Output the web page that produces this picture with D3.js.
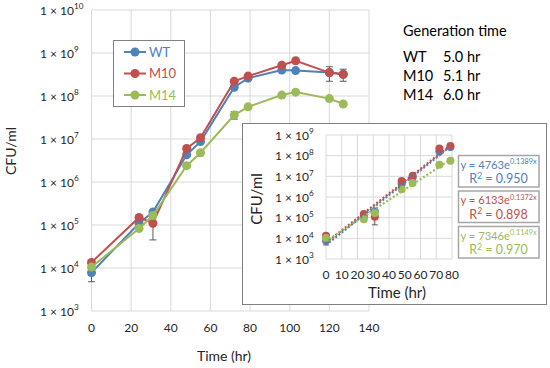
<!DOCTYPE html>
<html>
<head>
<meta charset="utf-8">
<script src="https://cdn.jsdelivr.net/npm/d3@7"></script>
<style>
  html, body { margin: 0; padding: 0; background: #fff; }
  svg { display: block; font-family: Lato, "Open Sans", sans-serif; }
</style>
</head>
<body>
<div id="chart"></div>
<script>
// ---- data ----
const times = [0, 24, 31, 48, 55, 72, 79, 96, 103, 120, 127];
const seriesNames = ["WT", "M10", "M14"];
const seriesColors = ["#4F81BD", "#C0504D", "#9BBB59"];
const wtValues  = [7.8e3, 1.1e5, 2.0e5, 4.3e6, 8.7e6, 1.6e8, 2.6e8, 4.0e8, 3.9e8, 3.5e8, 3.2e8];
const m10Values = [1.35e4, 1.5e5, 1.1e5, 6.0e6, 1.07e7, 2.2e8, 2.9e8, 5.2e8, 6.6e8, 3.5e8, 3.2e8];
const m14Values = [1.05e4, 8.3e4, 1.66e5, 2.4e6, 4.8e6, 3.6e7, 5.6e7, 1.05e8, 1.23e8, 8.7e7, 6.5e7];
const wtErrors  = [3e3, 0, 0, 0, 0, 0, 0, 0, 0, 0, 0];
const m10Errors = [0, 0, 6.5e4, 0, 0, 0, 0, 0, 0, 1.3e8, 1.0e8];
const m14Errors = [0, 0, 0, 0, 0, 7e6, 0, 0, 0, 0, 0];

const generationTimes = ["5.0 hr", "5.1 hr", "6.0 hr"];
const fitA = [4763, 6133, 7346];
const fitB = [0.1389, 0.1372, 0.1149];
const fitR2 = ["0.950", "0.898", "0.970"];

const mainXTicks = [0, 20, 40, 60, 80, 100, 120, 140];
const mainYExps = [3, 4, 5, 6, 7, 8, 9, 10];
const insetXTicks = [0, 10, 20, 30, 40, 50, 60, 70, 80];
const insetYExps = [3, 4, 5, 6, 7, 8, 9];
const insetMaxTime = 80;

const values = [wtValues, m10Values, m14Values];
const errors = [wtErrors, m10Errors, m14Errors];

const W = 550, H = 368;
const gridColor = "#D9D9D9";
const textColor = "#262626";

const svg = d3.select("#chart").append("svg")
  .attr("width", W).attr("height", H);

// ---- main chart ----
const x = d3.scaleLinear().domain([0, 140]).range([91.5, 369]);
const y = d3.scaleLog().domain([1e3, 1e10]).range([311, 10]);

const grid = svg.append("g");
grid.selectAll(".hg").data(mainYExps).enter().append("line")
  .attr("x1", x(0)).attr("x2", x(140))
  .attr("y1", d => y(Math.pow(10, d))).attr("y2", d => y(Math.pow(10, d)))
  .attr("stroke", gridColor).attr("stroke-width", 1);
grid.selectAll(".vg").data(mainXTicks).enter().append("line")
  .attr("x1", d => x(d)).attr("x2", d => x(d))
  .attr("y1", y(1e3)).attr("y2", y(1e10))
  .attr("stroke", gridColor).attr("stroke-width", 1);

function powLabel(sel, exp, size) {
  sel.append("tspan").text("1 \u00D7 10");
  sel.append("tspan").attr("dy", -size * 0.42).style("font-size", (size * 0.68) + "px").text(exp);
}

mainYExps.forEach(e => {
  const t = svg.append("text")
    .attr("x", 40).attr("y", y(Math.pow(10, e)) + 4.5)
    .style("font-size", "12px").attr("fill", textColor);
  powLabel(t, e, 12);
});

svg.selectAll(".xt").data(mainXTicks).enter().append("text")
  .attr("x", d => x(d)).attr("y", 332)
  .attr("text-anchor", "middle")
  .style("font-size", "12px").attr("fill", textColor)
  .text(d => d);

svg.append("text")
  .attr("x", 224).attr("y", 361)
  .attr("text-anchor", "middle")
  .style("font-size", "14px").attr("fill", textColor)
  .text("Time (hr)");

svg.append("text")
  .attr("transform", "translate(16,151) rotate(-90)")
  .attr("text-anchor", "middle")
  .style("font-size", "14px").attr("fill", textColor)
  .text("CFU/ml");

const line = d3.line().x(d => x(d.t)).y(d => y(d.v));

seriesNames.forEach((name, si) => {
  const pts = times.map((t, i) => ({ t, v: values[si][i], e: errors[si][i] }));
  const g = svg.append("g");
  // error bars
  pts.filter(d => d.e > 0).forEach(d => {
    const lo = y(Math.max(d.v - d.e, 1e3)), hi = y(d.v + d.e);
    g.append("line").attr("x1", x(d.t)).attr("x2", x(d.t))
      .attr("y1", lo).attr("y2", hi).attr("stroke", "#595959").attr("stroke-width", 1);
    [lo, hi].forEach(yy => g.append("line")
      .attr("x1", x(d.t) - 3.5).attr("x2", x(d.t) + 3.5)
      .attr("y1", yy).attr("y2", yy).attr("stroke", "#595959").attr("stroke-width", 1));
  });
  g.append("path").datum(pts)
    .attr("d", line)
    .attr("fill", "none")
    .attr("stroke", seriesColors[si]).attr("stroke-width", 2);
  g.selectAll("circle").data(pts).enter().append("circle")
    .attr("cx", d => x(d.t)).attr("cy", d => y(d.v)).attr("r", 4.5)
    .attr("fill", seriesColors[si]);
});

// legend
const legend = svg.append("g");
legend.append("rect")
  .attr("x", 113.5).attr("y", 40.5).attr("width", 71).attr("height", 66)
  .attr("fill", "#fff").attr("stroke", "#808080").attr("stroke-width", 1);
seriesNames.forEach((name, si) => {
  const ly = 52 + si * 21.5;
  legend.append("line").attr("x1", 124).attr("x2", 146).attr("y1", ly).attr("y2", ly)
    .attr("stroke", seriesColors[si]).attr("stroke-width", 2);
  legend.append("circle").attr("cx", 135).attr("cy", ly).attr("r", 4.5).attr("fill", seriesColors[si]);
  legend.append("text").attr("x", 149).attr("y", ly + 4.5)
    .style("font-size", "13px").attr("fill", seriesColors[si]).text(name);
});

// generation time table
svg.append("text").attr("x", 403).attr("y", 36)
  .style("font-size", "14.5px").attr("fill", "#000").text("Generation time");
seriesNames.forEach((name, si) => {
  const ty = 62 + si * 19;
  svg.append("text").attr("x", 403).attr("y", ty)
    .style("font-size", "14.5px").attr("fill", "#000").text(name);
  svg.append("text").attr("x", 443).attr("y", ty)
    .style("font-size", "14.5px").attr("fill", "#000").text(generationTimes[si]);
});

// ---- inset ----
const inset = svg.append("g");
inset.append("rect")
  .attr("x", 242.5).attr("y", 123.5).attr("width", 304).attr("height", 181)
  .attr("fill", "#fff").attr("stroke", "#7F7F7F").attr("stroke-width", 1);

const ix = d3.scaleLinear().domain([0, insetMaxTime]).range([326, 452]);
const iy = d3.scaleLog().domain([1e3, 1e9]).range([259, 135]);

inset.selectAll(".ihg").data(insetYExps).enter().append("line")
  .attr("x1", ix(0)).attr("x2", ix(insetMaxTime))
  .attr("y1", d => iy(Math.pow(10, d))).attr("y2", d => iy(Math.pow(10, d)))
  .attr("stroke", gridColor).attr("stroke-width", 1);
inset.selectAll(".ivg").data(insetXTicks).enter().append("line")
  .attr("x1", d => ix(d)).attr("x2", d => ix(d))
  .attr("y1", iy(1e3)).attr("y2", iy(1e9))
  .attr("stroke", gridColor).attr("stroke-width", 1);

insetYExps.forEach(e => {
  const t = inset.append("text")
    .attr("x", 275).attr("y", iy(Math.pow(10, e)) + 4.5)
    .style("font-size", "12px").attr("fill", textColor);
  powLabel(t, e, 12);
});
inset.selectAll(".ixt").data(insetXTicks).enter().append("text")
  .attr("x", d => ix(d)).attr("y", 279)
  .attr("text-anchor", "middle")
  .style("font-size", "12px").attr("fill", textColor)
  .text(d => d);
inset.append("text")
  .attr("x", 397).attr("y", 298)
  .attr("text-anchor", "middle")
  .style("font-size", "15px").attr("fill", textColor)
  .text("Time (hr)");
inset.append("text")
  .attr("transform", "translate(262,199) rotate(-90)")
  .attr("text-anchor", "middle")
  .style("font-size", "15px").attr("fill", textColor)
  .text("CFU/ml");

seriesNames.forEach((name, si) => {
  const pts = times.map((t, i) => ({ t, v: values[si][i], e: errors[si][i] }))
    .filter(d => d.t <= insetMaxTime);
  const g = inset.append("g");
  pts.filter(d => d.e > 0).forEach(d => {
    const lo = iy(Math.max(d.v - d.e, 1e3)), hi = iy(d.v + d.e);
    g.append("line").attr("x1", ix(d.t)).attr("x2", ix(d.t))
      .attr("y1", lo).attr("y2", hi).attr("stroke", "#595959").attr("stroke-width", 1);
    [lo, hi].forEach(yy => g.append("line")
      .attr("x1", ix(d.t) - 3).attr("x2", ix(d.t) + 3)
      .attr("y1", yy).attr("y2", yy).attr("stroke", "#595959").attr("stroke-width", 1));
  });
  g.selectAll("circle").data(pts).enter().append("circle")
    .attr("cx", d => ix(d.t)).attr("cy", d => iy(d.v)).attr("r", 4)
    .attr("fill", seriesColors[si]);
});

// exponential trendlines (straight on log axis)
seriesNames.forEach((name, si) => {
  const lastT = d3.max(times.filter(t => t <= insetMaxTime));
  const ends = [0, lastT].map(t => ({ t, v: fitA[si] * Math.exp(fitB[si] * t) }));
  inset.append("line")
    .attr("x1", ix(ends[0].t)).attr("y1", iy(ends[0].v))
    .attr("x2", ix(ends[1].t)).attr("y2", iy(ends[1].v))
    .attr("stroke", seriesColors[si]).attr("stroke-width", 2.2)
    .attr("stroke-dasharray", "2,2");
});

// equation boxes
seriesNames.forEach((name, si) => {
  const by = 155.5 + si * 35.5;
  const bg = inset.append("g");
  bg.append("rect").attr("x", 458.5).attr("y", by).attr("width", 80.5).attr("height", 31.5)
    .attr("fill", "#fff").attr("stroke", "#A6A6A6").attr("stroke-width", 1.5);
  const t1 = bg.append("text").attr("x", 498.5).attr("y", by + 13)
    .attr("text-anchor", "middle").style("font-size", "11.2px").attr("fill", seriesColors[si]);
  t1.append("tspan").text("y = " + fitA[si] + "e");
  t1.append("tspan").attr("dy", -4.5).style("font-size", "7.3px").text(fitB[si] + "x");
  const t2 = bg.append("text").attr("x", 498.5).attr("y", by + 27.5)
    .attr("text-anchor", "middle").style("font-size", "12.5px").attr("fill", seriesColors[si]);
  t2.append("tspan").text("R");
  t2.append("tspan").attr("dy", -4.5).style("font-size", "8.5px").text("2");
  t2.append("tspan").attr("dy", 4.5).text(" = " + fitR2[si]);
});
</script>
</body>
</html>
